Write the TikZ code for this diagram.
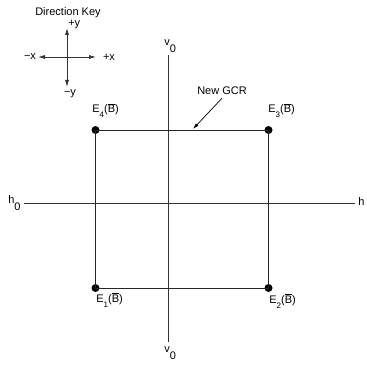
\documentclass[tikz,border=0pt]{standalone}
\usepackage{fontspec}
\setmainfont{Liberation Sans}
\usetikzlibrary{arrows.meta}

\newcommand{\axlab}[2]{#1\raisebox{-7pt}{#2}}
\newcommand{\elab}[1]{E\raisebox{-5pt}{\footnotesize #1}($\overline{\mbox{B}}$)}

\tikzset{
  lbl/.style={inner sep=0pt, font=\fontsize{11}{13}\selectfont},
  corner/.style={circle, fill=black, inner sep=0pt, minimum size=8pt},
  keyarrow/.style={-{Latex[length=7pt,width=4pt]}, line width=0.8pt, black!80},
}

\begin{document}
\begin{tikzpicture}[x=1pt,y=-1pt,line width=0.6pt]
\useasboundingbox (0,0) rectangle (366,366);

% direction key
\node [lbl] (key) at (68,13) {Direction Key};
\coordinate (kc) at (67,57);
\coordinate (ku) at (67,28);
\coordinate (kd) at (67,87);
\coordinate (kl) at (38,57);
\coordinate (kr) at (96,57);
\draw [keyarrow] (kc) -- (ku);
\draw [keyarrow] (kc) -- (kd);
\draw [keyarrow] (kc) -- (kl);
\draw [keyarrow] (kc) -- (kr);
\node [lbl, anchor=base west] (py) at (68,27) {+y};
\node [lbl, anchor=base] (my) at (70,96) {\textminus y};
\node [lbl] (mx) at (30,57) {\textminus x};
\node [lbl] (px) at (109,57) {+x};

% axes
\coordinate (vtop) at (168,55);
\coordinate (vbot) at (168,342);
\coordinate (hl) at (24,203.5);
\coordinate (hr) at (355,203.5);
\draw [black!80] (vtop) -- (vbot);
\draw [black!80] (hl) -- (hr);
\node [lbl, anchor=base west] (v0t) at (164,46) {\axlab{v}{0}};
\node [lbl, anchor=base west] (v0b) at (164,352) {\axlab{v}{0}};
\node [lbl, anchor=base west] (h0l) at (8,203) {\axlab{h}{0}};
\node [lbl, anchor=base west] (h0r) at (358,205) {h};

% new GCR
\foreach \n/\x/\y in {1/95.5/288, 2/268.5/288, 3/268.5/130, 4/95.5/130}
{
\node [corner] (E\n) at (\x,\y) {};
}
\draw [black!85] (E1.center) -- (E2.center) -- (E3.center) -- (E4.center) -- cycle;
\foreach \n/\x/\y in {1/96/302, 2/269/303, 3/268/113, 4/92/113}
{
\node [lbl, anchor=base west] (L\n) at (\x,\y) {\elab{\n}};
}

\node [lbl] (gcr) at (222,91) {New GCR};
\coordinate (gcrtip) at (193,129);
\draw [-{Latex[length=6pt,width=3.5pt]}, line width=0.7pt] ([yshift=-3pt]gcr.south) -- (gcrtip);

\end{tikzpicture}
\end{document}
